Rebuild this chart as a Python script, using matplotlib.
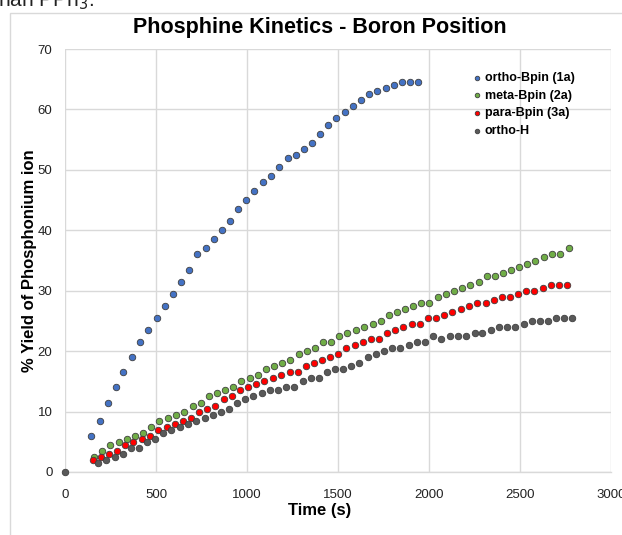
import matplotlib
matplotlib.use("Agg")
import matplotlib.pyplot as plt
from matplotlib.patches import Rectangle

plt.rcParams['font.family'] = ['Liberation Sans', 'DejaVu Sans']

# ---- data ----
ortho_bpin_t = [144, 190, 235, 279, 321, 367, 411, 457, 503, 548, 592, 638, 684, 728,
                774, 818, 862, 906, 952, 996, 1041, 1087, 1133, 1177, 1223, 1268, 1312,
                1356, 1400, 1446, 1490, 1536, 1581, 1625, 1671, 1715, 1761, 1807, 1853,
                1897, 1941]
ortho_bpin_y = [6, 8.5, 11.5, 14, 16.5, 19, 21.5, 23.5, 25.5, 27.5, 29.5, 31.5, 33.5, 36,
                37, 38.5, 40, 41.5, 43.5, 45, 46.5, 48, 49, 50.5, 52, 52.5, 53.5, 54.5,
                56, 57.5, 58.5, 59.5, 60.5, 61.5, 62.5, 63, 63.5, 64, 64.5, 64.5, 64.5]

meta_bpin_t = [158, 202, 248, 294, 340, 384, 430, 474, 519, 565, 611, 655, 701, 745, 789,
               833, 878, 922, 968, 1014, 1059, 1105, 1150, 1194, 1239, 1283, 1327, 1373,
               1417, 1461, 1507, 1552, 1598, 1644, 1690, 1734, 1780, 1822, 1867, 1913,
               1957, 2001, 2047, 2091, 2137, 2183, 2227, 2272, 2318, 2362, 2406, 2452,
               2496, 2541, 2585, 2631, 2677, 2721, 2767]
meta_bpin_y = [2.5, 3.5, 4.5, 5, 5.5, 6, 6.5, 7.5, 8.5, 9, 9.5, 10, 11, 11.5, 12.5, 13,
               13.5, 14, 15, 15.5, 16, 17, 17.5, 18, 18.5, 19.5, 20, 20.5, 21.5, 21.5,
               22.5, 23, 23.5, 24, 24.5, 25, 26, 26.5, 27, 27.5, 28, 28, 29, 29.5, 30,
               30.5, 31, 31.5, 32.5, 32.5, 33, 33.5, 34, 34.5, 35, 35.5, 36, 36, 37]

para_bpin_t = [153, 197, 243, 287, 332, 376, 422, 468, 512, 558, 602, 647, 693, 737, 781,
               825, 871, 917, 961, 1007, 1051, 1096, 1142, 1188, 1234, 1278, 1322, 1366,
               1410, 1455, 1501, 1545, 1591, 1637, 1681, 1725, 1771, 1815, 1859, 1904,
               1950, 1994, 2040, 2085, 2129, 2175, 2221, 2265, 2311, 2356, 2399, 2443,
               2488, 2534, 2578, 2626, 2670, 2713, 2757]
para_bpin_y = [2, 2.5, 3, 3.5, 4.5, 5, 5.5, 6, 7, 7.5, 8, 8.5, 9, 10, 10.5, 11, 12, 12.5,
               13.5, 14, 14.5, 15, 15.5, 16, 16.5, 16.5, 17.5, 18, 18.5, 19, 19.5, 20.5,
               21, 21.5, 22, 22, 23, 23.5, 24, 24.5, 24.5, 25.5, 25.5, 26, 26.5, 27,
               27.5, 28, 28, 28.5, 29, 29, 29.5, 30, 30, 30.5, 31, 31, 31]

ortho_h_t = [0, 182, 226, 272, 318, 362, 406, 452, 497, 541, 585, 631, 677, 721, 767, 812,
             856, 900, 946, 990, 1035, 1080, 1124, 1169, 1215, 1259, 1305, 1351, 1395,
             1441, 1485, 1529, 1574, 1618, 1664, 1708, 1754, 1799, 1843, 1889, 1933,
             1977, 2021, 2067, 2113, 2158, 2205, 2250, 2293, 2338, 2384, 2428, 2474,
             2520, 2564, 2608, 2652, 2697, 2744, 2787]
ortho_h_y = [0, 1.5, 2, 2.5, 3, 4, 4, 5, 5.5, 6.5, 7, 7.5, 8, 8.5, 9, 9.5, 10, 10.5, 11.5,
             12, 12.5, 13, 13.5, 13.5, 14, 14, 15, 15.5, 15.5, 16.5, 17, 17, 17.5, 18,
             19, 19.5, 20, 20.5, 20.5, 21, 21.5, 21.5, 22.5, 22, 22.5, 22.5, 22.5, 23,
             23, 23.5, 24, 24, 24, 24.5, 25, 25, 25, 25.5, 25.5, 25.5]

series_names = ['ortho-Bpin (1a)', 'meta-Bpin (2a)', 'para-Bpin (3a)', 'ortho-H']
series_colors = ['#4472C4', '#70AD47', '#FF0000', '#595959']

x_ticks = [0, 500, 1000, 1500, 2000, 2500, 3000]
y_ticks = [0, 10, 20, 30, 40, 50, 60, 70]

# ---- figure ----
W, H = 622, 535
fig = plt.figure(figsize=(W / 100, H / 100), dpi=100)

# chart area border (Excel chart frame, cropped)
fig.patches.append(Rectangle((10 / W, -0.05), 1.2, 1 - 13 / H + 0.05,
                             transform=fig.transFigure, fill=False,
                             edgecolor='#d9d9d9', linewidth=1.0))
# cropped document text above the chart
fig.text(-0.004, 1 - 6 / H, 'han PPh$_3$.', fontsize=15, ha='left', va='baseline',
         color='#222222')

AX_L, AX_R, AX_T, AX_B = 65, 611, 49, 472
ax = fig.add_axes([AX_L / W, 1 - AX_B / H, (AX_R - AX_L) / W, (AX_B - AX_T) / H])

xs = [ortho_bpin_t, meta_bpin_t, para_bpin_t, ortho_h_t]
ys = [ortho_bpin_y, meta_bpin_y, para_bpin_y, ortho_h_y]
for t, y, name, c in zip(xs, ys, series_names, series_colors):
    ax.scatter(t, y, s=22, color=c, edgecolors='#3f3f3f', linewidths=0.6,
               label=name, zorder=3, clip_on=False)

ax.set_xlim(0, 3000)
ax.set_ylim(0, 70)
ax.set_xticks(x_ticks)
ax.set_yticks(y_ticks)
ax.set_xticklabels([str(v) for v in x_ticks], fontsize=9.5)
ax.set_yticklabels([str(v) for v in y_ticks], fontsize=9.5)
ax.tick_params(axis='both', length=0, colors='#222222')
ax.tick_params(axis='x', pad=12)
ax.tick_params(axis='y', pad=9)
ax.grid(True, color='#d9d9d9', linewidth=1.0)
ax.set_axisbelow(True)
for side in ['top', 'right', 'left']:
    ax.spines[side].set_visible(False)
ax.spines['bottom'].set_color('#d9d9d9')
ax.spines['bottom'].set_linewidth(1.0)

ax.set_xlabel('Time (s)', fontsize=12, fontweight='bold')
ax.xaxis.set_label_coords((320 - AX_L) / (AX_R - AX_L), -(510 - AX_B) / (AX_B - AX_T))
ax.xaxis.label.set_va('center')
ax.set_ylabel('% Yield of Phosphonium ion', fontsize=12, fontweight='bold')
ax.yaxis.set_label_coords(-(AX_L - 30) / (AX_R - AX_L), (AX_B - 261) / (AX_B - AX_T))
ax.yaxis.label.set_va('center')
fig.text(320 / W, 1 - 28 / H, 'Phosphine Kinetics - Boron Position', fontsize=15.5,
         fontweight='bold', ha='center', va='center')

leg = ax.legend(loc='upper left',
                bbox_to_anchor=((466 - AX_L) / (AX_R - AX_L), (AX_B - 67) / (AX_B - AX_T)),
                frameon=False, fontsize=9, handletextpad=0.1, labelspacing=0.45,
                borderaxespad=0, handlelength=1.0, markerscale=0.7)
for txt in leg.get_texts():
    txt.set_fontweight('bold')

fig.savefig('out.png', dpi=100)
